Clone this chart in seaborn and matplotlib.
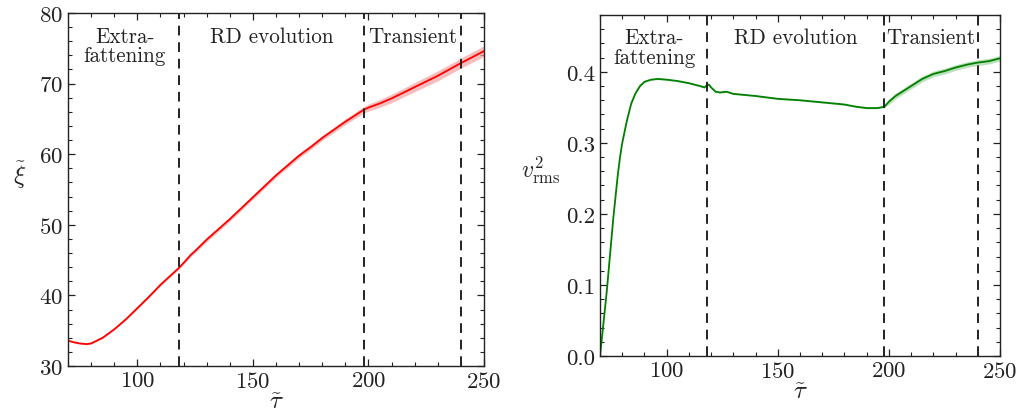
import matplotlib
matplotlib.use("Agg")
import matplotlib.pyplot as plt
import numpy as np
import pandas as pd
import seaborn as sns
from matplotlib.ticker import MultipleLocator

# left panel: correlation length xi vs tau
TAU_XI = [70, 72, 75, 78, 80, 85, 90, 95, 100, 105, 110, 115, 118, 120, 123,
          125, 130, 140, 150, 160, 170, 175, 180, 190, 198, 200, 205, 210,
          215, 220, 230, 240, 250]
XI = [33.6, 33.4, 33.2, 33.1, 33.2, 34.0, 35.2, 36.6, 38.2, 39.8, 41.5, 43.0,
      43.9, 44.6, 45.7, 46.3, 47.9, 50.8, 53.9, 57.0, 59.8, 61.0, 62.3, 64.6,
      66.3, 66.6, 67.2, 67.9, 68.7, 69.5, 71.1, 72.9, 74.6]
XI_ERR = [0.1, 0.1, 0.1, 0.1, 0.1, 0.1, 0.1, 0.1, 0.15, 0.15, 0.15, 0.15,
          0.2, 0.2, 0.25, 0.25, 0.3, 0.3, 0.3, 0.3, 0.35, 0.35, 0.35, 0.4,
          0.45, 0.5, 0.55, 0.6, 0.6, 0.65, 0.7, 0.7, 0.75]

# right panel: v^2_rms vs tau
TAU_V = [70, 71, 72, 73, 74, 75, 76, 77, 78, 79, 80, 82, 84, 86, 88, 90, 93,
         96, 100, 105, 110, 115, 117, 118, 119, 120, 122, 124, 127, 130, 140,
         150, 160, 170, 180, 185, 190, 195, 198, 200, 203, 207, 210, 215, 220,
         225, 230, 235, 240, 245, 250]
V2 = [0.0, 0.03, 0.06, 0.09, 0.125, 0.16, 0.195, 0.225, 0.255, 0.28, 0.30,
      0.33, 0.355, 0.37, 0.38, 0.386, 0.389, 0.390, 0.389, 0.387, 0.384,
      0.380, 0.378, 0.381, 0.382, 0.378, 0.372, 0.371, 0.372, 0.369, 0.366,
      0.362, 0.360, 0.357, 0.354, 0.351, 0.349, 0.349, 0.351, 0.358, 0.366,
      0.374, 0.380, 0.390, 0.397, 0.401, 0.406, 0.410, 0.413, 0.415, 0.419]
V2_ERR = [0.001] * 39 + [0.004] * 12

PHASE_LINES = [118, 198, 240]
PHASE_LABELS = ["Extra-\nfattening", "RD evolution", "Transient"]
PHASE_CENTERS = [94.5, 158, 219]

sns.set_style("ticks")
plt.rcParams["font.family"] = ["serif"]
plt.rcParams["font.serif"] = ["cmr10", "DejaVu Serif"]
plt.rcParams["mathtext.fontset"] = "cm"
plt.rcParams["axes.formatter.use_mathtext"] = True
plt.rcParams["text.color"] = "#222222"

fig = plt.figure(figsize=(10.17, 4.14), dpi=100)
ax1 = fig.add_axes([0.0669, 0.1135, 0.409, 0.8527])
ax2 = fig.add_axes([0.590, 0.1377, 0.3933, 0.8237])

df_xi = pd.DataFrame({"tau": TAU_XI, "xi": XI, "err": XI_ERR})
df_v = pd.DataFrame({"tau": TAU_V, "v2": V2, "err": V2_ERR})

ax1.fill_between(df_xi["tau"], df_xi["xi"] - df_xi["err"],
                 df_xi["xi"] + df_xi["err"], color="#f4a0a0", alpha=0.7, lw=0)
sns.lineplot(data=df_xi, x="tau", y="xi", ax=ax1, color="red", lw=1.3)

ax2.fill_between(df_v["tau"], df_v["v2"] - df_v["err"],
                 df_v["v2"] + df_v["err"], color="#9fd39f", alpha=0.7, lw=0)
sns.lineplot(data=df_v, x="tau", y="v2", ax=ax2, color="#008000", lw=1.3)

for ax in (ax1, ax2):
    for x in PHASE_LINES:
        ax.axvline(x, color="#222222", ls=(0, (5, 3.5)), lw=1.4)
    for label, xc in zip(PHASE_LABELS, PHASE_CENTERS):
        ax.text(xc, 0.962, label, transform=ax.get_xaxis_transform(),
                ha="center", va="top", fontsize=15.2, linespacing=1.0)
    ax.set_xlim(70, 250)
    ax.xaxis.set_major_locator(MultipleLocator(50))
    ax.xaxis.set_minor_locator(MultipleLocator(10))
    ax.tick_params(which="both", direction="in", top=True, right=True,
                   labelsize=16.5, colors="#222222")
    ax.tick_params(which="major", length=5, width=0.9)
    ax.tick_params(which="minor", length=3, width=0.8)
    ax.set_xlabel(r"$\tilde{\tau}$", fontsize=18, labelpad=0)
    for spine in ax.spines.values():
        spine.set_linewidth(1.0)
        spine.set_color("#222222")

ax1.set_ylim(30, 80)
ax1.yaxis.set_major_locator(MultipleLocator(10))
ax1.yaxis.set_minor_locator(MultipleLocator(2))
ax1.set_ylabel(r"$\tilde{\xi}$", fontsize=18, rotation=0, labelpad=14)

ax2.set_ylim(0, 0.48)
ax2.yaxis.set_major_locator(MultipleLocator(0.1))
ax2.yaxis.set_minor_locator(MultipleLocator(0.02))
ax2.yaxis.set_major_formatter(matplotlib.ticker.FormatStrFormatter("%.1f"))
ax2.set_ylabel(r"$v^2_{\rm rms}$", fontsize=17, rotation=0, labelpad=18)

fig.savefig("out.png", dpi=100)
